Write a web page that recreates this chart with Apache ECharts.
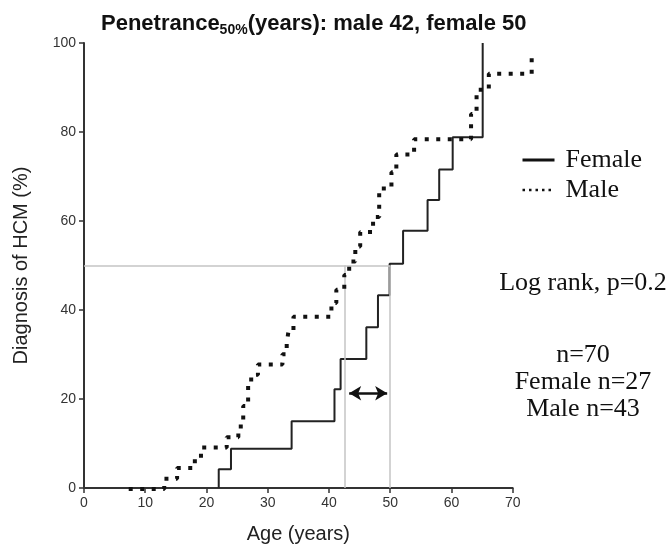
<!DOCTYPE html>
<html>
<head>
<meta charset="utf-8">
<script src="https://cdn.jsdelivr.net/npm/echarts@6/dist/echarts.min.js"></script>
<style>html,body{margin:0;padding:0;background:#fff}#c{width:670px;height:549px}</style>
</head>
<body>
<div id="c"></div>
<script>
// ---- data ----
var xTicks = [0, 10, 20, 30, 40, 50, 60, 70];
var yTicks = [0, 20, 40, 60, 80, 100];
var femaleAges   = [22, 22, 24, 33.9, 40.9, 41.9, 46.1, 48.0, 49.9, 52.1, 56.1, 58.0, 60.2, 65.1];
var femaleValues = [0, 4.2, 8.8, 15.0, 22.2, 29.0, 36.1, 43.3, 50.4, 57.8, 64.7, 71.6, 78.8, 100];
var maleAges   = [7.3, 13.1, 15.2, 18.1, 19.1, 23.3, 25.2, 26.0, 26.8, 27.3, 28.4, 32.4, 33.1, 33.4, 34.2, 40.4, 41.2, 42.5, 43.3, 44.3, 45.1, 47.2, 48.2, 50.2, 51.0, 53.9, 63.2, 64.1, 66.1, 73.1];
var maleValues = [0, 2.3, 4.7, 7.0, 9.3, 11.6, 14.0, 18.6, 23.3, 25.6, 27.9, 30.2, 32.6, 35.5, 38.6, 41.7, 44.7, 48.0, 51.0, 54.4, 57.6, 61.0, 67.4, 71.0, 75.0, 78.4, 84.1, 89.5, 93.1, 97.0];
var penetranceLevel = 50;
var penetranceAges = [42.5, 50];          // male, female
var arrowAges = [43.3, 49.5];
var arrowLevel = 21.3;
var statsLines = ['Log rank, p=0.2', 'n=70', 'Female n=27', 'Male n=43'];

function pairs(a, b) { return a.map(function (v, i) { return [v, b[i]]; }); }

var chart = echarts.init(document.getElementById('c'), null, {renderer: 'canvas'});
var serif = 'Liberation Serif, Times New Roman, serif';
var sans = 'Liberation Sans, Arial, sans-serif';

// plot geometry: x 0..70 spans 84 -> 512.7 px
var plotLeft = 84, plotWidth = 428.7, xMax = 70, xMaxExt = 75;

var option = {
  animation: false,
  backgroundColor: '#fff',
  title: {
    left: 96, top: 5,
    text: '{a|Penetrance}{s|50%}{a|(years): male 42, female 50}',
    textStyle: {
      rich: {
        a: {fontFamily: sans, fontWeight: 'bold', fontSize: 22, color: '#111'},
        s: {fontFamily: sans, fontWeight: 'bold', fontSize: 14, color: '#111', verticalAlign: 'bottom', padding: [13, 0, 0, 0]}
      }
    }
  },
  grid: [
    {left: plotLeft, width: plotWidth, top: 43, bottom: 60},
    {left: plotLeft, width: plotWidth * xMaxExt / xMax, top: 43, bottom: 60}
  ],
  legend: {
    orient: 'vertical', left: 516, top: 142, itemWidth: 32, itemHeight: 14, itemGap: 4,
    textStyle: {fontFamily: serif, fontSize: 26, color: '#111', padding: [0, 0, 0, 6]},
    itemStyle: {opacity: 0, borderWidth: 0},
    data: [
      {name: 'Female', lineStyle: {width: 3, color: '#111', type: 'solid'}},
      {name: 'Male', lineStyle: {width: 2.5, color: '#111', type: [2.5, 4]}}
    ]
  },
  xAxis: [{
    type: 'value', min: 0, max: xMax, interval: 10, gridIndex: 0,
    name: 'Age (years)', nameLocation: 'middle', nameGap: 36,
    nameTextStyle: {fontFamily: sans, fontSize: 20, color: '#222'},
    axisLine: {lineStyle: {color: '#333', width: 2}},
    axisTick: {length: 5, lineStyle: {color: '#333', width: 1.5}},
    axisLabel: {fontFamily: sans, fontSize: 14, color: '#333', margin: 8,
      formatter: function (v) { return xTicks.indexOf(v) >= 0 ? String(v) : ''; }},
    splitLine: {show: false}
  }, {
    type: 'value', min: 0, max: xMaxExt, gridIndex: 1, show: false
  }],
  yAxis: [{
    type: 'value', min: 0, max: 100, interval: 20, gridIndex: 0,
    name: 'Diagnosis of HCM (%)', nameLocation: 'middle', nameGap: 53,
    nameTextStyle: {fontFamily: sans, fontSize: 20, color: '#222'},
    axisLine: {show: true, lineStyle: {color: '#333', width: 2}},
    axisTick: {show: true, length: 5, lineStyle: {color: '#333', width: 1.5}},
    axisLabel: {fontFamily: sans, fontSize: 14, color: '#333', margin: 8,
      formatter: function (v) { return yTicks.indexOf(v) >= 0 ? String(v) : ''; }},
    splitLine: {show: false}
  }, {
    type: 'value', min: 0, max: 100, gridIndex: 1, show: false
  }],
  series: [
    {
      name: 'ref', type: 'line', silent: true, symbol: 'none', data: [],
      markLine: {
        silent: true, symbol: ['none', 'none'], label: {show: false},
        lineStyle: {color: '#c4c4c4', width: 1.5, type: 'solid'},
        data: [
          [{coord: [0, penetranceLevel]}, {coord: [penetranceAges[1], penetranceLevel]}],
          [{coord: [penetranceAges[0], 0]}, {coord: [penetranceAges[0], penetranceLevel]}],
          [{coord: [penetranceAges[1], 0]}, {coord: [penetranceAges[1], penetranceLevel]}]
        ]
      },
      z: 1
    },
    {
      name: 'arrow', type: 'line', silent: true, symbol: 'none', data: [],
      markLine: {
        silent: true, symbol: ['arrow', 'arrow'], symbolSize: [11, 12], label: {show: false},
        lineStyle: {color: '#111', width: 2.5, type: 'solid'},
        data: [[{coord: [arrowAges[0], arrowLevel]}, {coord: [arrowAges[1], arrowLevel]}]]
      },
      z: 3
    },
    {
      name: 'Female', type: 'line', step: 'end', symbol: 'none', clip: false,
      lineStyle: {color: '#222', width: 2},
      itemStyle: {color: '#222'},
      data: pairs(femaleAges, femaleValues), z: 4
    },
    {
      name: 'Male', type: 'line', step: 'end', symbol: 'none', clip: false,
      xAxisIndex: 1, yAxisIndex: 1,
      lineStyle: {color: '#111', width: 4, type: [4, 7.5], cap: 'butt'},
      itemStyle: {color: '#111'},
      data: pairs(maleAges, maleValues), z: 5
    }
  ],
  graphic: statsLines.map(function (t, i) {
    var ys = [283, 355, 382, 409];
    return {
      type: 'text',
      style: {text: t, x: 583, y: ys[i], textAlign: 'center', textVerticalAlign: 'middle',
        font: '26px ' + serif, fill: '#111'}
    };
  })
};
chart.setOption(option);
</script>
</body>
</html>
